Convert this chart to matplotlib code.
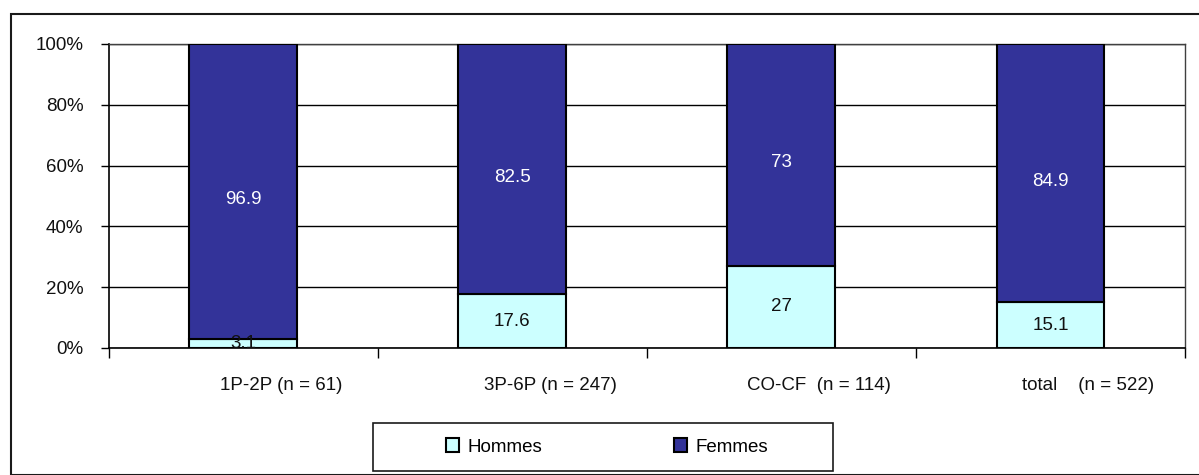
import matplotlib
matplotlib.use("Agg")
import matplotlib.pyplot as plt
from matplotlib.patches import Rectangle, Patch
from matplotlib.transforms import ScaledTranslation
import numpy as np

categories = ["1P-2P (n = 61)", "3P-6P (n = 247)", "CO-CF  (n = 114)", "total    (n = 522)"]
hommes = [3.1, 17.6, 27, 15.1]
femmes = [96.9, 82.5, 73, 84.9]
hommes_labels = ["3.1", "17.6", "27", "15.1"]
femmes_labels = ["96.9", "82.5", "73", "84.9"]
yticks = [0, 20, 40, 60, 80, 100]
ytick_labels = ["0%", "20%", "40%", "60%", "80%", "100%"]

plt.rcParams['font.family'] = ['Liberation Sans', 'DejaVu Sans']
FS = 13.5

W, H = 1199, 475
fig = plt.figure(figsize=(W / 100, H / 100), dpi=100)

# outer chart border
fig.patches.append(Rectangle((11 / W, 0), 1.2, 1 - 14 / H, transform=fig.transFigure,
                             fill=False, edgecolor='#1a1a1a', linewidth=1.5, zorder=0))

ax = fig.add_axes([108.5 / W, 1 - 348 / H, (1185 - 108.5) / W, (348 - 44) / H])
x = np.arange(len(categories))
bw = 0.4
c_h = '#CCFFFF'
c_f = '#333399'
ax.bar(x, hommes, bw, color=c_h, edgecolor='black', linewidth=1.5, zorder=3, label='Hommes')
ax.bar(x, femmes, bw, bottom=hommes, color=c_f, edgecolor='black', linewidth=1.5, zorder=3, label='Femmes')

for i in range(len(x)):
    ax.annotate(hommes_labels[i], (x[i], hommes[i] / 2), ha='center', va='center',
                fontsize=FS, color='#111111', zorder=5)
    ax.annotate(femmes_labels[i], (x[i], hommes[i] + femmes[i] / 2), xytext=(0, -8),
                textcoords='offset pixels', ha='center', va='center',
                fontsize=FS, color='white', zorder=5)

ax.set_xlim(-0.5, len(x) - 0.5)
ax.set_ylim(0, 100)
ax.set_yticks(yticks)
ax.set_yticklabels(ytick_labels, fontsize=FS, color='#111111')
ax.yaxis.grid(True, color='black', linewidth=1.0, zorder=0)
ax.set_axisbelow(True)
ax.tick_params(axis='y', direction='out', length=6, width=1, pad=12)

ax.set_xticks(x)
ax.set_xticklabels(categories, fontsize=FS, color='#111111')
ax.set_xticks(np.arange(-0.5, len(x)), minor=True)
ax.tick_params(axis='x', which='major', length=0, pad=21)
ax.tick_params(axis='x', which='minor', direction='out', length=7, width=1)
offset = ScaledTranslation(38 / 100, 0, fig.dpi_scale_trans)
for lab in ax.get_xticklabels():
    lab.set_transform(lab.get_transform() + offset)

for s in ['left', 'bottom']:
    ax.spines[s].set_color('black')
    ax.spines[s].set_linewidth(1.2)
for s in ['top', 'right']:
    ax.spines[s].set_color('#404040')
    ax.spines[s].set_linewidth(1.0)

# legend frame
fig.patches.append(Rectangle((373 / W, 1 - 471 / H), (833 - 373) / W, (471 - 423) / H,
                             transform=fig.transFigure, fill=True, facecolor='white',
                             edgecolor='#1a1a1a', linewidth=1.2, zorder=1))
handles = [Patch(facecolor=c_h, edgecolor='black', linewidth=1.5),
           Patch(facecolor=c_f, edgecolor='black', linewidth=1.5)]
leg = fig.legend(handles, ['Hommes', 'Femmes'], loc='center',
                 bbox_to_anchor=(607 / W, 1 - 447 / H), ncol=2, frameon=False,
                 fontsize=FS, handlelength=0.7, handleheight=0.7,
                 handletextpad=0.45, columnspacing=7.0)
leg.set_zorder(2)

fig.savefig('out.png', dpi=100)
